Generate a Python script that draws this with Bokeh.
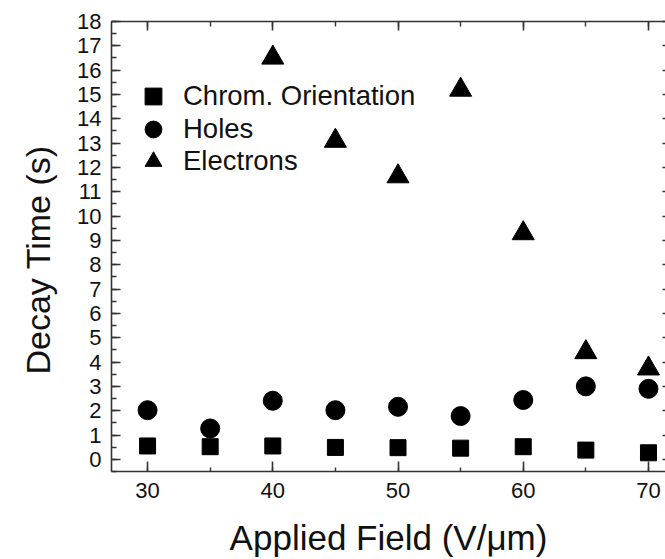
from bokeh.plotting import figure
from bokeh.models import (Range1d, LinearAxis, FixedTicker, Legend, LegendItem, Title)
from bokeh.embed import file_html
from bokeh.resources import INLINE

# ---- data ----
fields = [30, 35, 40, 45, 50, 55, 60, 65, 70]
chrom_orientation = [0.55, 0.52, 0.55, 0.49, 0.48, 0.46, 0.52, 0.38, 0.27]
holes = [2.02, 1.27, 2.41, 2.02, 2.16, 1.78, 2.44, 3.00, 2.90]
electron_fields = [40, 45, 50, 55, 60, 65, 70]
electrons = [16.51, 13.09, 11.63, 15.19, 9.29, 4.40, 3.73]

series_names = ["Chrom. Orientation", "Holes", "Electrons"]
x_title = "Applied Field (V/μm)"
y_title = "Decay Time (s)"

x_major = [30, 40, 50, 60, 70]
x_minor = [30, 35, 40, 45, 50, 55, 60, 65, 70]
y_major = list(range(0, 19))
y_minor = [i / 2 for i in range(-1, 37)]

FONT = "Liberation Sans"
AX = "#333333"
TXT = "#111111"

p = figure(width=665, height=559, output_backend="svg", toolbar_location=None,
           x_range=Range1d(27.12, 71.36), y_range=Range1d(-0.5, 18),
           x_axis_location=None, y_axis_location=None,
           min_border_left=111, min_border_top=21, min_border_bottom=88,
           min_border_right=0, outline_line_color=None)
p.grid.visible = False
p.background_fill_color = "white"
p.border_fill_color = "white"

def style(ax, tin, mtin):
    ax.axis_line_color = AX
    ax.axis_line_width = 1.6
    ax.major_tick_line_color = AX
    ax.minor_tick_line_color = AX
    ax.major_tick_line_width = 1.6
    ax.minor_tick_line_width = 1.4
    ax.major_tick_in = tin
    ax.major_tick_out = 0
    ax.minor_tick_in = mtin
    ax.minor_tick_out = 0
    ax.major_label_text_font = FONT
    ax.major_label_text_font_size = "22px"
    ax.major_label_text_color = TXT

bottom = LinearAxis(ticker=FixedTicker(ticks=x_major, minor_ticks=x_minor))
style(bottom, 10, 4)
bottom.major_label_standoff = 11
p.add_layout(bottom, "below")

# axis that only carries the x title
xlab = LinearAxis(ticker=FixedTicker(ticks=[], minor_ticks=[]), axis_label=x_title)
xlab.axis_line_color = None
xlab.major_tick_line_color = None
xlab.minor_tick_line_color = None
xlab.major_tick_in = 0
xlab.major_tick_out = 0
xlab.minor_tick_in = 0
xlab.minor_tick_out = 0
xlab.major_label_standoff = 0
xlab.axis_label_standoff = 17
xlab.axis_label_text_font = FONT
xlab.axis_label_text_font_size = "35px"
xlab.axis_label_text_font_style = "normal"
xlab.axis_label_text_color = TXT
xlab.axis_label_text_line_height = 0.9
p.add_layout(xlab, "below")

top = LinearAxis(ticker=FixedTicker(ticks=x_major, minor_ticks=x_minor))
style(top, 9, 5)
top.major_label_text_font_size = "0px"
top.major_label_overrides = {t: "" for t in x_major}
top.major_label_standoff = 0
p.add_layout(top, "above")

left = LinearAxis(ticker=FixedTicker(ticks=y_major, minor_ticks=y_minor))
style(left, 9, 5)
left.major_label_standoff = 10
p.add_layout(left, "left")

right = LinearAxis(ticker=FixedTicker(ticks=y_major, minor_ticks=[]))
style(right, 3, 0)
right.axis_line_color = None
right.major_label_text_font_size = "0px"
right.major_label_overrides = {t: "" for t in y_major}
right.major_label_standoff = 0
p.add_layout(right, "right")

# y title as a Title annotation (align/offset place it along the axis)
yt = Title(text=y_title, align="left", offset=97, vertical_align="top",
           standoff=32, text_font=FONT, text_font_size="34px",
           text_font_style="normal", text_color=TXT)
p.add_layout(yt, "left")

r1 = p.scatter(fields, chrom_orientation, marker="square", size=16,
               fill_color="black", line_color="black")
r2 = p.scatter(fields, holes, marker="circle", size=19,
               fill_color="black", line_color="black")
r3 = p.scatter(electron_fields, electrons, marker="triangle", size=22,
               fill_color="black", line_color="black")

# one legend box per row so that the glyphs stay large while rows are tight
for name, rend, ypos in zip(series_names, [r1, r2, r3], [354, 321, 289]):
    lg = Legend(items=[LegendItem(label=name, renderers=[rend])],
                location=(21, ypos), orientation="vertical",
                glyph_width=42, glyph_height=42, spacing=0,
                label_standoff=9, padding=0, margin=0,
                border_line_color=None, background_fill_alpha=0,
                label_text_font=FONT, label_text_font_size="27.5px",
                label_text_color=TXT)
    p.add_layout(lg, "center")

open("out.html", "w").write(file_html(p, INLINE))
